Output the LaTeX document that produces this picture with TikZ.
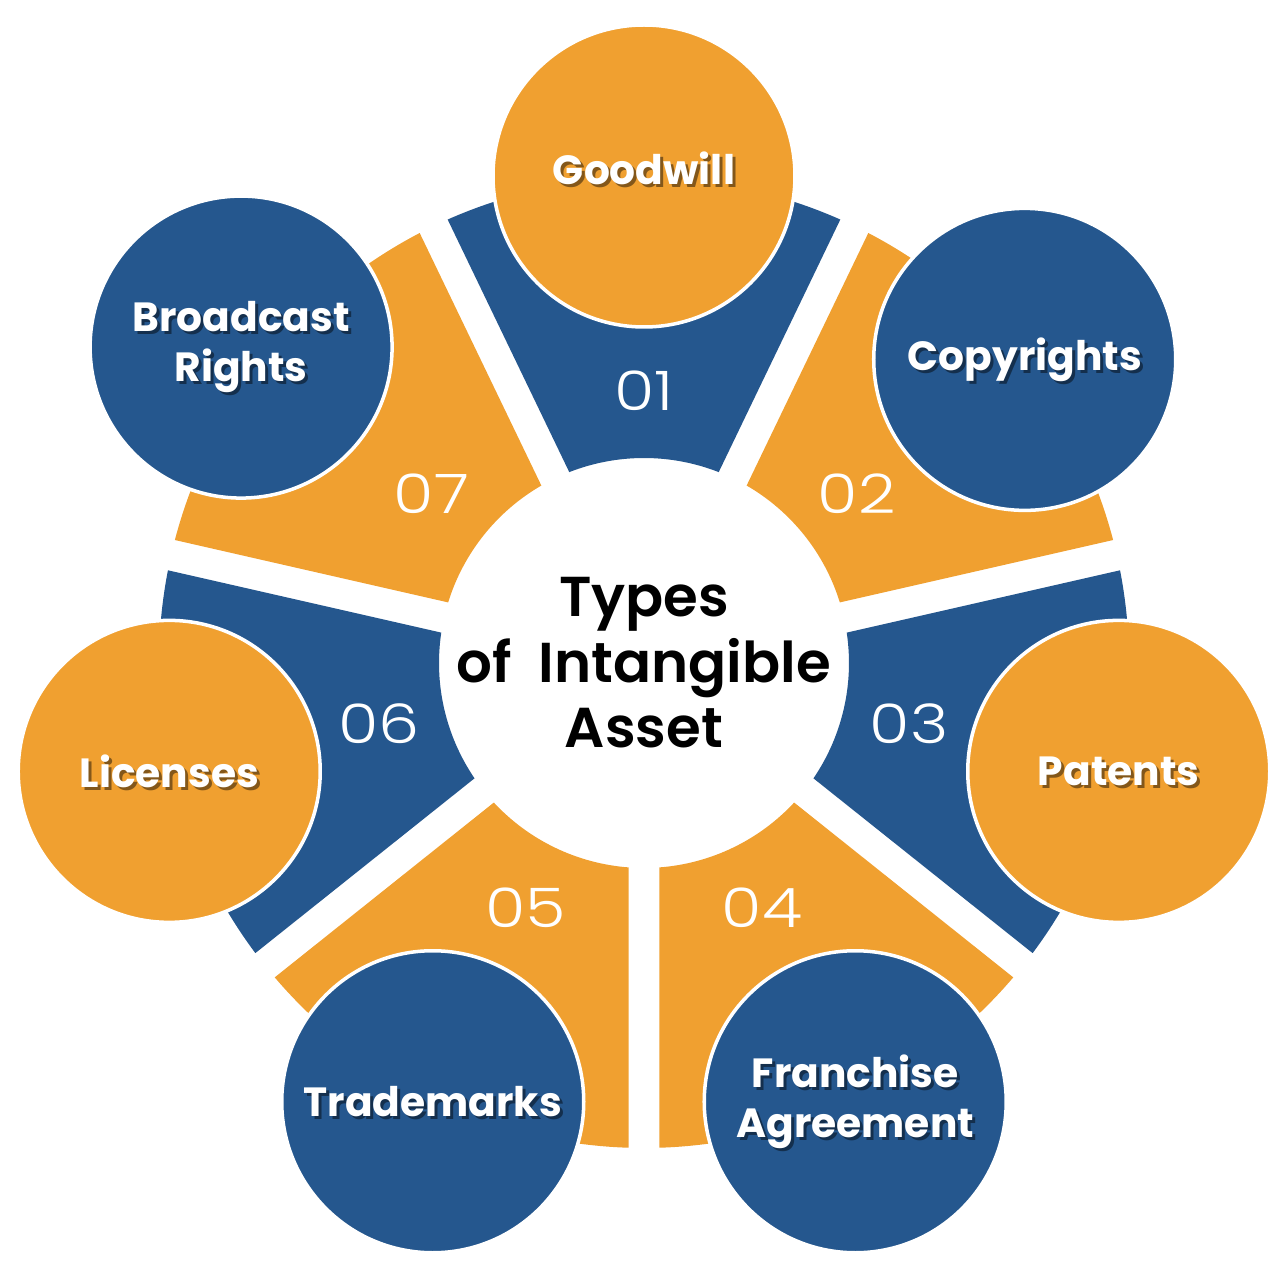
\documentclass[tikz,border=0pt]{standalone}
\usepackage{fontspec}
\setmainfont{Poppins}
\newfontfamily\titlefont{Poppins}[UprightFont=* SemiBold]
\newfontfamily\numfont{Poppins}[UprightFont=* Light, FakeStretch=1.2]

\definecolor{assetblue}{HTML}{25578E}
\definecolor{assetorange}{HTML}{F0A030}

\tikzset{
    bubble/.style={circle, minimum size=3.02cm, inner sep=0pt, draw=white, line width=1pt},
    bubbletext/.style={text=white, align=center, font=\bfseries\fontsize{11.6}{14.2}\selectfont},
    numtext/.style={text=white, font=\numfont\fontsize{15.5}{16}\selectfont},
    titletext/.style={align=center, font=\titlefont\fontsize{16}{18.6}\selectfont}
}

\begin{document}
\begin{tikzpicture}
        % canvas, centre of the wheel at the origin
        \useasboundingbox (-6.44,-6.16) rectangle (6.40,6.63);

        % the seven sectors, 30 px wide gaps between them
        \foreach \i/\a/\sec in {
            1/90/assetblue,
            2/38.57/assetorange,
            3/-12.86/assetblue,
            4/-64.29/assetorange,
            5/-115.71/assetorange,
            6/-167.14/assetblue,
            7/141.43/assetorange} {
                \fill[\sec] (\a-23.88:4.85) arc[start angle=\a-23.88, end angle=\a+23.88, radius=4.85]
                    -- (\a+21.38:2.05) arc[start angle=\a+21.38, end angle=\a-21.38, radius=2.05] -- cycle;
                % sector number
                \node[numtext] (n\i) at (\a:2.72) {0\i};
        }

        % bubbles at the outer end of each sector
        \foreach \i/\a/\rr/\dot/\dy/\txt in {
            1/90/4.87/assetorange/.08/Goodwill,
            2/38.57/4.87/assetblue/0/Copyrights,
            3/-12.86/4.87/assetorange/0/Patents,
            4/-64.29/4.87/assetblue/0/{Franchise\\Agreement},
            5/-115.71/4.87/assetblue/0/Trademarks,
            6/-167.14/4.87/assetorange/0/Licenses,
            7/141.9/5.12/assetblue/0/{Broadcast\\Rights}} {
                \node[bubble, fill=\dot] (c\i) at (\a:\rr) {};
                % dark drop shadow under the label
                \node[bubbletext, text=black, opacity=.45, xshift=.3mm, yshift=\dy cm-.3mm] (s\i) at (c\i) {\txt};
                \node[bubbletext, yshift=\dy cm] (t\i) at (c\i) {\txt};
        }

        % title in the middle
        \node[titletext] (title) at (0,0.0) {Types\\of~ Intangible\\Asset};
\end{tikzpicture}
\end{document}
